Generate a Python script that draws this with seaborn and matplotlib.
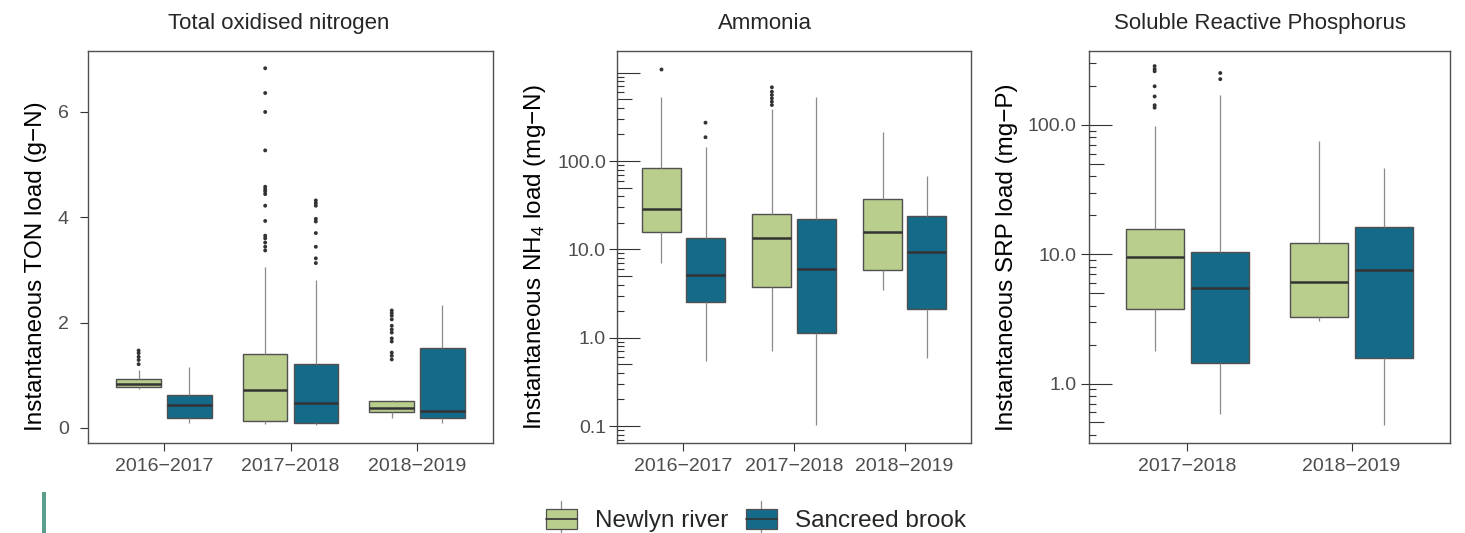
import numpy as np
import pandas as pd
import matplotlib
matplotlib.use("Agg")
import matplotlib.pyplot as plt
import seaborn as sns
from matplotlib.patches import Rectangle, Patch
from matplotlib.lines import Line2D
from matplotlib.legend_handler import HandlerBase
from matplotlib.ticker import FixedLocator, NullFormatter

# ---------------- data ----------------
sites = ["Newlyn river", "Sancreed brook"]
site_colors = ["#b9cd8d", "#156a8a"]

# five-number summaries per year: [whisker low, Q1, median, Q3, whisker high]
ton_years = ["2016−2017", "2017−2018", "2018−2019"]
ton_newlyn = [[0.73, 0.77, 0.83, 0.93, 1.10],
              [0.07, 0.14, 0.72, 1.41, 3.06],
              [0.19, 0.31, 0.37, 0.52, 0.53]]
ton_sancreed = [[0.10, 0.18, 0.44, 0.63, 1.15],
                [0.055, 0.09, 0.48, 1.21, 2.81],
                [0.09, 0.18, 0.33, 1.51, 2.33]]
ton_newlyn_out = [[1.21, 1.29, 1.35, 1.42, 1.47],
                  [6.83, 6.36, 6.00, 5.27, 4.58, 4.53, 4.49, 4.44, 4.22, 3.93,
                   3.65, 3.60, 3.52, 3.44, 3.37],
                  [2.23, 2.18, 2.13, 2.06, 1.94, 1.87, 1.81, 1.70, 1.64, 1.43,
                   1.37, 1.30]]
ton_sancreed_out = [[],
                    [4.32, 4.27, 4.22, 3.97, 3.92, 3.70, 3.44, 3.22, 3.13],
                    []]

nh4_years = ["2016−2017", "2017−2018", "2018−2019"]
nh4_newlyn = [[7.1, 15.6, 28.9, 82.8, 535.0],
              [0.70, 3.75, 13.6, 24.9, 385.0],
              [3.44, 5.79, 15.7, 37.5, 211.0]]
nh4_sancreed = [[0.545, 2.54, 5.13, 13.6, 145.0],
                [0.103, 1.14, 6.04, 21.9, 535.0],
                [0.585, 2.13, 9.33, 23.9, 68.2]]
nh4_newlyn_out = [[1102.0],
                  [684.0, 610.0, 560.0, 513.0, 470.0, 431.0],
                  []]
nh4_sancreed_out = [[272.0, 186.0], [], []]

srp_years = ["2017−2018", "2018−2019"]
srp_newlyn = [[1.79, 3.75, 9.6, 15.6, 98.3],
              [3.03, 3.29, 6.07, 12.3, 75.2]]
srp_sancreed = [[0.579, 1.44, 5.52, 10.5, 170.0],
                [0.478, 1.59, 7.52, 16.1, 46.2]]
srp_newlyn_out = [[285.0, 270.0, 260.0, 199.0, 166.0, 142.0, 136.0], []]
srp_sancreed_out = [[252.0, 226.0], []]

# ---------------- style ----------------
sns.set_style("ticks")
plt.rcParams["font.family"] = ["Liberation Sans", "DejaVu Sans"]
plt.rcParams["mathtext.fontset"] = "custom"
plt.rcParams["mathtext.rm"] = "Liberation Sans"
plt.rcParams["axes.unicode_minus"] = True

EDGE = "#505050"
MED = "#333333"
WHISK = "#8a8a8a"
TICKC = "#333333"
TLAB = "#4d4d4d"

W, H = 1465, 533
fig = plt.figure(figsize=(W / 100, H / 100), dpi=100)


def fig_rect(x0, x1, ytop, ybot):
    return [x0 / W, (H - ybot) / H, (x1 - x0) / W, (ybot - ytop) / H]


def long_df(years, a, b):
    rows = []
    for site, stats in zip(sites, [a, b]):
        for yr, s in zip(years, stats):
            for v in s:
                rows.append((yr, site, v))
    return pd.DataFrame(rows, columns=["year", "site", "value"])


def draw_panel(ax, years, a, b, a_out, b_out, log):
    df = long_df(years, a, b)
    odf = long_df(years, a_out, b_out)
    sns.boxplot(data=df, x="year", y="value", hue="site", order=years,
                hue_order=sites, palette=site_colors, saturation=1,
                whis=(0, 100), width=0.8, gap=0.12, linecolor=EDGE,
                linewidth=1.0, showcaps=False, fliersize=0,
                medianprops=dict(color=MED, linewidth=1.8),
                whiskerprops=dict(color=WHISK, linewidth=0.9),
                log_scale=True if log else None, legend=False, ax=ax)
    sns.stripplot(data=odf, x="year", y="value", hue="site", order=years,
                  hue_order=sites, palette=["#333333", "#333333"],
                  dodge=True, jitter=False, size=2.8, linewidth=0,
                  legend=False, ax=ax)
    ax.set_xlim(-0.6, len(years) - 0.4)
    ax.set_xlabel("")
    for sp in ax.spines.values():
        sp.set_color(EDGE)
        sp.set_linewidth(1.0)
    ax.tick_params(axis="x", direction="out", length=5.8, width=0.8,
                   color=TICKC, labelsize=14, labelcolor=TLAB, pad=5)


def log_inner_ticks(ax, lo, hi, labeled, labels, pad):
    ax.set_yscale("log")
    ax.set_ylim(lo, hi)
    ax.yaxis.set_major_locator(FixedLocator(labeled))
    ax.set_yticklabels(labels)
    ax.yaxis.set_minor_locator(FixedLocator([5 * 10.0 ** k for k in range(-3, 4)]))
    ax.yaxis.set_minor_formatter(NullFormatter())
    ax.tick_params(axis="y", which="major", direction="out", length=5.8,
                   width=0.8, color=TICKC, labelsize=14, labelcolor=TLAB, pad=pad)
    ax.tick_params(axis="y", which="minor", direction="in", length=10.8,
                   width=0.8, color=TICKC)
    ax2 = ax.twinx()
    ax2.set_yscale("log")
    ax2.set_ylim(lo, hi)
    ax2.yaxis.tick_left()
    ax2.yaxis.set_major_locator(FixedLocator([10.0 ** k for k in range(-3, 4)]))
    ax2.yaxis.set_minor_locator(FixedLocator(
        [m * 10.0 ** k for k in range(-3, 4) for m in (2, 3, 4, 6, 7, 8, 9)]))
    ax2.yaxis.set_major_formatter(NullFormatter())
    ax2.yaxis.set_minor_formatter(NullFormatter())
    ax2.tick_params(axis="y", which="major", direction="in", length=16.3,
                    width=0.8, color=TICKC, labelleft=False, labelright=False)
    ax2.tick_params(axis="y", which="minor", direction="in", length=5.3,
                    width=0.8, color=TICKC, labelleft=False, labelright=False)
    for sp in ax2.spines.values():
        sp.set_visible(False)
    ax.set_ylim(lo, hi)


# ---------------- panel 1: TON ----------------
ax1 = fig.add_axes(fig_rect(88, 493, 51, 443))
draw_panel(ax1, ton_years, ton_newlyn, ton_sancreed, ton_newlyn_out,
           ton_sancreed_out, log=False)
ax1.set_ylim(-0.287, 7.158)
ax1.set_yticks([0, 2, 4, 6])
ax1.set_yticklabels(["0", "2", "4", "6"])
ax1.tick_params(axis="y", direction="out", length=5.8, width=0.8, color=TICKC,
                labelsize=14, labelcolor=TLAB, pad=8)
ax1.set_ylabel("Instantaneous TON load (g−N)", fontsize=17.5, color="black")
ax1.yaxis.label.set_verticalalignment("center")
ax1.yaxis.set_label_coords(-0.128, 0.450)

# ---------------- panel 2: NH4 ----------------
ax2 = fig.add_axes(fig_rect(617, 971, 51, 443))
draw_panel(ax2, nh4_years, nh4_newlyn, nh4_sancreed, nh4_newlyn_out,
           nh4_sancreed_out, log=True)
log_inner_ticks(ax2, 0.0643, 1762, [0.1, 1, 10, 100],
                ["0.1", "1.0", "10.0", "100.0"], pad=2.2)
ax2.set_ylabel(r"Instantaneous $\mathregular{NH_4}$ load (mg−N)",
               fontsize=17.5, color="black")
ax2.yaxis.label.set_verticalalignment("center")
ax2.yaxis.set_label_coords(-0.232, 0.473)

# ---------------- panel 3: SRP ----------------
ax3 = fig.add_axes(fig_rect(1089, 1450, 51, 443))
draw_panel(ax3, srp_years, srp_newlyn, srp_sancreed, srp_newlyn_out,
           srp_sancreed_out, log=True)
log_inner_ticks(ax3, 0.347, 373, [1, 10, 100], ["1.0", "10.0", "100.0"],
                pad=3.2)
ax3.set_ylabel("Instantaneous SRP load (mg−P)", fontsize=17.5, color="black")
ax3.yaxis.label.set_verticalalignment("center")
ax3.yaxis.set_label_coords(-0.228, 0.474)

# ---------------- titles ----------------
title_y = 1 - 23.5 / H
fig.text(279 / W, title_y, "Total oxidised nitrogen", ha="center", va="center",
         fontsize=16)
fig.text(764.7 / W, title_y, "Ammonia", ha="center", va="center", fontsize=16)
fig.text(1259.5 / W, title_y, "Soluble Reactive Phosphorus", ha="center",
         va="center", fontsize=16)


# ---------------- legend ----------------
class BoxKey(HandlerBase):
    def create_artists(self, legend, orig_handle, xdescent, ydescent, width,
                       height, fontsize, trans):
        x0, y0 = -xdescent, -ydescent
        bh = height * 0.95
        by = y0 + (height - bh) / 2
        cx = x0 + width / 2
        ext = height * 0.35
        w1 = Line2D([cx, cx], [by - ext, by], color=WHISK, lw=0.9,
                    transform=trans)
        w2 = Line2D([cx, cx], [by + bh, by + bh + ext], color=WHISK, lw=0.9,
                    transform=trans)
        rect = Rectangle((x0, by), width, bh,
                         facecolor=orig_handle.get_facecolor(),
                         edgecolor=EDGE, lw=0.9, transform=trans)
        med = Line2D([x0, x0 + width], [by + bh / 2] * 2, color=MED, lw=1.2,
                     transform=trans)
        return [w1, w2, rect, med]


handles = [Patch(facecolor=c) for c in site_colors]
fig.legend(handles=handles, labels=sites, handler_map={Patch: BoxKey()},
           loc="center", bbox_to_anchor=(756 / W, (H - 520) / H), ncol=2,
           frameon=False, fontsize=17.5, handlelength=1.25, handleheight=0.95,
           handletextpad=0.75, columnspacing=0.75, borderpad=0, borderaxespad=0)

# decorative side bar present in the reference image
fig.add_artist(Rectangle((42 / W, 0), 4 / W, (H - 492) / H,
                         transform=fig.transFigure, facecolor="#5a9e8c",
                         edgecolor="none"))

fig.savefig("out.png", dpi=100)
